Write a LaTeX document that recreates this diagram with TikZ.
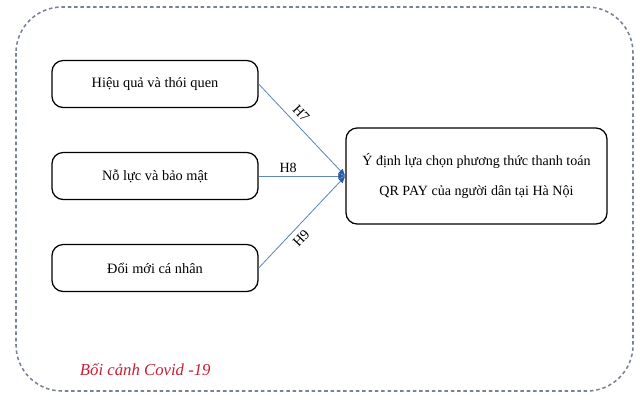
\documentclass[tikz,border=0pt]{standalone}
\usepackage{fontspec}
\setmainfont{Liberation Serif}
\usetikzlibrary{arrows.meta}

\definecolor{framegray}{RGB}{120,130,150}
\definecolor{linkblue}{RGB}{95,135,190}
\definecolor{tipblue}{RGB}{40,90,170}
\definecolor{ctxred}{RGB}{200,30,50}

\tikzset{
  factor/.style={draw=black, line width=0.9pt, rounded corners=8pt,
    minimum width=5.15cm, minimum height=1.175cm, font=\fontsize{10.2}{12}\selectfont},
  target/.style={factor, minimum width=6.525cm, minimum height=2.4cm,
    align=center, font=\fontsize{10}{21}\selectfont},
  link/.style={draw=linkblue, line width=0.6pt,
    -{Latex[length=5pt,width=4.5pt,color=tipblue]}},
  hyp/.style={font=\fontsize{10}{12}\selectfont, inner sep=4pt}
}

\begin{document}
\begin{tikzpicture}[x=0.025cm, y=-0.025cm]
      \useasboundingbox (0,0) rectangle (637,397);
      \draw[framegray, line width=1.1pt, dash pattern=on 2.5pt off 2pt, rounded corners=1.15cm]
        (16,7) rectangle (633,391);

      \node[factor] (hieuqua) at (155,84) {Hiệu quả và thói quen};
      \node[factor] (noluc) at (155,176) {Nỗ lực và bảo mật};
      \node[factor] (doimoi) at (155,268) {Đổi mới cá nhân};
      \node[target] (ydinh) at (476.5,176)
        {Ý định lựa chọn phương thức thanh toán\\QR PAY của người dân tại Hà Nội};
      \coordinate (hub) at (ydinh.west);

      \draw[link] (hieuqua.east) -- node[hyp, pos=0.4, sloped, above] {H7} (hub);
      \draw[link] (noluc.east) -- node[hyp, pos=0.34, above, inner sep=2pt] {H8} (hub);
      \draw[link] (doimoi.east) -- node[hyp, pos=0.4, sloped, below] {H9} (hub);

      \node[ctxred, anchor=west, font=\itshape\fontsize{11.9}{14}\selectfont] (boicanh) at (75,370) {Bối cảnh Covid -19};
\end{tikzpicture}
\end{document}
